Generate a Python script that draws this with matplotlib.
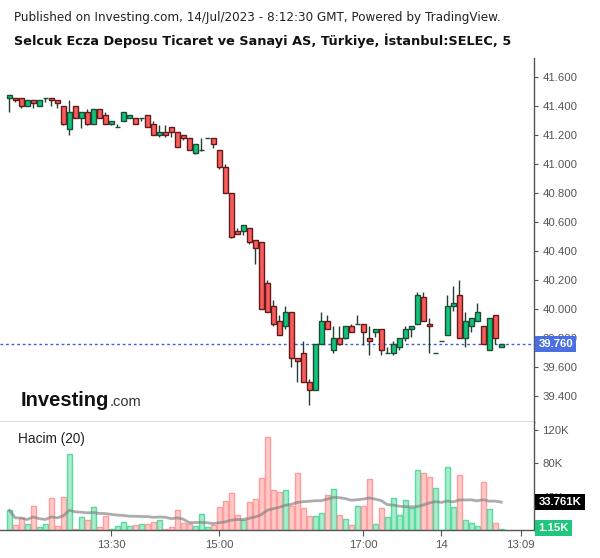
import matplotlib
matplotlib.use('Agg')
import matplotlib.pyplot as plt
import numpy as np
import pandas as pd
from matplotlib.transforms import blended_transform_factory

plt.rcParams['font.family'] = ['Liberation Sans', 'DejaVu Sans']

# ---------------- data ----------------
opens = [41.46, 41.46, 41.46, 41.40, 41.44, 41.40, 41.46, 41.46, 41.44, 41.40,
         41.24, 41.40, 41.32, 41.36, 41.28, 41.38, 41.34, 41.28, 41.26, 41.30,
         41.32, 41.32, 41.32, 41.34, 41.28, 41.20, 41.22, 41.26, 41.22, 41.20,
         41.18, 41.08, 41.10, 41.18, 41.18, 41.10, 40.98, 40.80, 40.54, 40.54,
         40.56, 40.48, 40.46, 40.18, 40.02, 39.92, 39.88, 39.98, 39.66, 39.70,
         39.50, 39.44, 39.76, 39.92, 39.72, 39.80, 39.80, 39.88, 39.90, 39.90,
         39.80, 39.84, 39.86, 39.70, 39.70, 39.74, 39.80, 39.86, 39.90, 40.08,
         39.90, 39.70, 39.78, 39.82, 40.02, 40.10, 39.80, 39.88, 39.92, 39.88,
         39.72, 39.96, 39.74]
highs = [41.48, 41.46, 41.46, 41.44, 41.44, 41.44, 41.46, 41.46, 41.44, 41.40,
         41.44, 41.40, 41.36, 41.38, 41.38, 41.38, 41.36, 41.30, 41.28, 41.36,
         41.34, 41.32, 41.32, 41.34, 41.30, 41.27, 41.27, 41.26, 41.22, 41.20,
         41.18, 41.14, 41.18, 41.18, 41.18, 41.10, 41.00, 40.80, 40.56, 40.58,
         40.56, 40.48, 40.46, 40.20, 40.06, 39.96, 40.02, 39.98, 39.66, 39.78,
         39.52, 39.76, 39.98, 39.96, 39.88, 39.88, 39.88, 39.90, 39.96, 39.90,
         39.88, 39.86, 39.86, 39.74, 39.78, 39.80, 39.88, 39.88, 40.12, 40.12,
         39.94, 39.70, 39.78, 40.10, 40.16, 40.20, 39.98, 39.94, 40.04, 39.88,
         39.94, 39.96, 39.76]
lows = [41.36, 41.43, 41.39, 41.40, 41.39, 41.40, 41.43, 41.40, 41.39, 41.27,
        41.20, 41.32, 41.25, 41.27, 41.28, 41.32, 41.28, 41.27, 41.26, 41.30,
        41.32, 41.28, 41.30, 41.26, 41.20, 41.19, 41.19, 41.19, 41.12, 41.17,
        41.10, 41.07, 41.09, 41.18, 41.11, 40.97, 40.80, 40.49, 40.52, 40.51,
        40.45, 40.31, 40.00, 39.98, 39.88, 39.82, 39.86, 39.60, 39.50, 39.50,
        39.34, 39.44, 39.76, 39.86, 39.70, 39.75, 39.79, 39.84, 39.90, 39.75,
        39.68, 39.81, 39.68, 39.70, 39.68, 39.72, 39.78, 39.81, 39.90, 39.92,
        39.70, 39.70, 39.78, 39.82, 39.99, 39.80, 39.74, 39.84, 39.92, 39.76,
        39.72, 39.76, 39.74]
closes = [41.48, 41.44, 41.40, 41.44, 41.42, 41.44, 41.46, 41.44, 41.42, 41.28,
          41.36, 41.32, 41.36, 41.28, 41.38, 41.32, 41.28, 41.30, 41.26, 41.36,
          41.34, 41.28, 41.32, 41.26, 41.20, 41.22, 41.20, 41.22, 41.12, 41.18,
          41.10, 41.14, 41.10, 41.18, 41.14, 40.98, 40.80, 40.50, 40.52, 40.58,
          40.46, 40.42, 40.00, 39.98, 39.90, 39.82, 39.98, 39.66, 39.64, 39.50,
          39.44, 39.76, 39.92, 39.86, 39.80, 39.76, 39.88, 39.84, 39.90, 39.84,
          39.78, 39.86, 39.72, 39.70, 39.76, 39.80, 39.86, 39.88, 40.10, 39.92,
          39.88, 39.70, 39.78, 40.02, 40.04, 39.80, 39.92, 39.94, 39.98, 39.76,
          39.94, 39.80, 39.76]
volumes_k = [23.6, 5.6, 14.0, 6.8, 28.4, 3.2, 6.8, 38.0, 4.4, 39.2,
             90.8, 0.8, 15.2, 11.6, 27.2, 3.2, 16.4, 0.8, 4.4, 9.2,
             4.4, 5.6, 6.8, 6.8, 9.2, 11.6, 0.8, 3.2, 23.6, 8.0,
             6.8, 4.4, 18.8, 3.2, 5.6, 27.2, 34.4, 44.0, 17.6, 11.6,
             33.2, 36.8, 62.0, 111.6, 47.6, 45.2, 47.6, 28.4, 68.0, 26.0,
             16.4, 16.4, 20.0, 42.0, 48.8, 17.6, 12.8, 5.6, 28.4, 28.4,
             60.8, 6.8, 26.0, 15.2, 38.0, 17.6, 35.6, 26.0, 71.6, 68.0,
             63.2, 50.0, 0.4, 75.2, 27.2, 65.6, 11.6, 8.0, 4.4, 57.2,
             24.8, 8.0, 1.15]

time_tick_pos = [17, 35, 59, 72, 85.2]
time_tick_labels = ['13:30', '15:00', '17:00', '14', '13:09']
price_ticks = [39.4, 39.6, 39.8, 40.0, 40.2, 40.4, 40.6, 40.8, 41.0, 41.2, 41.4, 41.6]
vol_ticks = [40, 80, 120]
vol_tick_labels = ['40K', '80K', '120K']
last_price = 39.76
last_price_label = '39.760'
ma_value = 33.761
ma_label = '33.761K'
last_vol_label = '1.15K'
title_1 = 'Published on Investing.com, 14/Jul/2023 - 8:12:30 GMT, Powered by TradingView.'
title_2 = 'Selcuk Ecza Deposu Ticaret ve Sanayi AS, Türkiye, İstanbul:SELEC, 5'
vol_title = 'Hacim (20)'

# ---------------- layout ----------------
W, H = 600, 558
fig = plt.figure(figsize=(W / 100, H / 100), dpi=100, facecolor='white')


def fx(px):
    return px / W


def fy(py):
    return 1 - py / H


AX_RIGHT = 534
ax = fig.add_axes([0, fy(422), AX_RIGHT / W, (422 - 58) / H])
axv = fig.add_axes([0, fy(530), AX_RIGHT / W, (530 - 422) / H])

o = np.array(opens)
h = np.array(highs)
l = np.array(lows)
c = np.array(closes)
v = np.array(volumes_k)
x = np.arange(len(o))
up = c >= o

xlim = (-9.3 / 6, (AX_RIGHT - 9.3) / 6)
GRAY = '#555555'

# ---- price panel ----
ax.axhline(last_price, color='#3d5fdc', lw=1, ls=(0, (2, 2)), zorder=1)
ax.vlines(x, l, h, color='#22402f', lw=1, zorder=2)
ax.bar(x, np.abs(c - o), bottom=np.minimum(o, c), width=0.78,
       color=np.where(up, '#10c47b', '#fa5c5c'),
       edgecolor=np.where(up, '#1c4d34', '#611b1b'), linewidth=1, zorder=3)
ax.set_xlim(*xlim)
ax.set_ylim(39.2205, 41.733)
ax.yaxis.tick_right()
ax.set_yticks(price_ticks)
ax.set_yticklabels([f'{t:.3f}' for t in price_ticks])
ax.tick_params(axis='y', length=3, color=GRAY, labelcolor=GRAY, labelsize=8.2, pad=3)
ax.tick_params(axis='x', bottom=False, labelbottom=False)
for s in ['top', 'left']:
    ax.spines[s].set_visible(False)
for s in ['right', 'bottom']:
    ax.spines[s].set_color(GRAY)
    ax.spines[s].set_linewidth(1)

trans = blended_transform_factory(ax.transAxes, ax.transData)
ax.text(1 + 4.5 / AX_RIGHT, last_price, last_price_label, transform=trans,
        ha='left', va='center', color='white', fontweight='bold', fontsize=8.2,
        bbox=dict(boxstyle='square,pad=0.28', fc='#4a6fe3', ec='none'),
        zorder=10, clip_on=False)

# ---- volume panel ----
axv.bar(x, v, width=0.83,
        color=np.where(up, '#a8eccb', '#ffc9c9'),
        edgecolor=np.where(up, '#5ad9a0', '#ff9d9d'), linewidth=1, zorder=2)
ma = pd.Series(v).rolling(20, min_periods=1).mean()
axv.plot(x, ma, color='#808080', alpha=0.65, lw=2, zorder=3)
axv.set_xlim(*xlim)
axv.set_ylim(0, 129.6)
axv.yaxis.tick_right()
axv.set_yticks(vol_ticks)
axv.set_yticklabels(vol_tick_labels)
axv.tick_params(axis='y', length=3, color=GRAY, labelcolor=GRAY, labelsize=8.2, pad=3)
axv.set_xticks(time_tick_pos)
axv.set_xticklabels(time_tick_labels)
axv.tick_params(axis='x', length=4, color=GRAY, labelcolor=GRAY, labelsize=8.2, pad=3)
for s in ['top', 'left']:
    axv.spines[s].set_visible(False)
for s in ['right', 'bottom']:
    axv.spines[s].set_color(GRAY)
    axv.spines[s].set_linewidth(1)

transv = blended_transform_factory(axv.transAxes, axv.transData)
axv.text(1 + 4.5 / AX_RIGHT, ma_value, ma_label, transform=transv,
         ha='left', va='center', color='white', fontweight='bold', fontsize=8.2,
         bbox=dict(boxstyle='square,pad=0.28', fc='black', ec='none'),
         zorder=10, clip_on=False)
axv.text(1 + 4.5 / AX_RIGHT, 2.4, last_vol_label, transform=transv,
         ha='left', va='center', color='white', fontweight='bold', fontsize=8.2,
         bbox=dict(boxstyle='square,pad=0.28', fc='#1fc77c', ec='none'),
         zorder=10, clip_on=False)

axv.text(fx(18), fy(439), vol_title, transform=fig.transFigure, ha='left',
         va='center', fontsize=9.8, color='#222222')

# ---- titles ----
fig.text(fx(14), fy(17.5), title_1, ha='left', va='center', fontsize=8.63,
         color='#222222', family=['DejaVu Sans'])
fig.text(fx(14), fy(40.5), title_2, ha='left', va='center', fontsize=9.3,
         fontweight='bold', color='#111111', family=['DejaVu Sans'])

# ---- logo ----
logo = fig.text(fx(21), fy(406), 'Investing', ha='left', va='baseline',
                fontsize=14.5, fontweight='bold', color='#111111')
fig.canvas.draw()
bb = logo.get_window_extent()
fig.text(bb.x1 / W + fx(0.5), fy(406), '.com', ha='left', va='baseline',
         fontsize=10.5, color='#333333')

fig.savefig('out.png', dpi=100, facecolor='white')
